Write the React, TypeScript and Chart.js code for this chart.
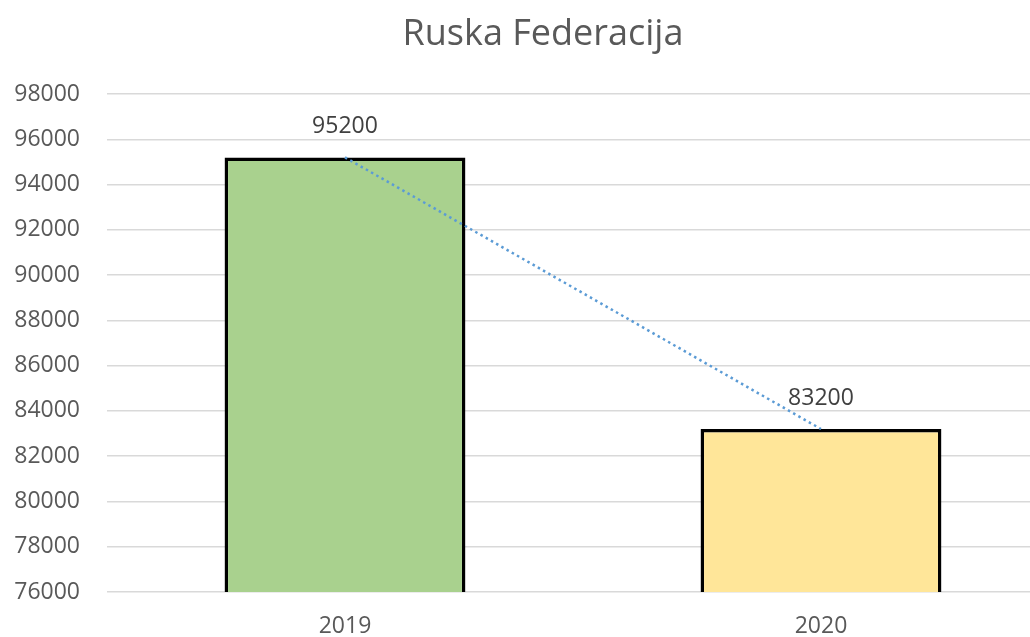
import React, { useEffect, useRef } from "react";
import { Chart, registerables } from "chart.js";

Chart.register(...registerables);

const title = "Ruska Federacija";
const categories = ["2019", "2020"];
const values = [95200, 83200];
const barColors = ["#A9D18E", "#FFE699"];
const yMin = 76000;
const yMax = 98000;
const yStep = 2000;

const FONT = "'Open Sans', 'Noto Sans', sans-serif";

const dataLabelPlugin = {
  id: "dataLabels",
  afterDatasetsDraw(chart: any) {
    const ctx = chart.ctx;
    const meta = chart.getDatasetMeta(1);
    ctx.save();
    ctx.font = `23px ${FONT}`;
    ctx.fillStyle = "#404040";
    ctx.textAlign = "center";
    ctx.textBaseline = "middle";
    meta.data.forEach((bar: any, i: number) => {
      ctx.fillText(String(values[i]), bar.x, bar.y - 31);
    });
    ctx.restore();
  },
};

const titlePlugin = {
  id: "chartTitle",
  afterDraw(chart: any) {
    const ctx = chart.ctx;
    ctx.save();
    ctx.font = `36px ${FONT}`;
    ctx.fillStyle = "#595959";
    ctx.textAlign = "center";
    ctx.textBaseline = "middle";
    ctx.fillText(title, 543, 35);
    ctx.restore();
  },
};

export default function App() {
  const ref = useRef<HTMLCanvasElement | null>(null);

  useEffect(() => {
    if (!ref.current) return;
    const chart = new Chart(ref.current, {
      type: "bar",
      data: {
        labels: categories,
        datasets: [
          {
            type: "line",
            data: values,
            borderColor: "#5B9BD5",
            borderWidth: 2.5,
            borderDash: [2.5, 3.5],
            pointRadius: 0,
            fill: false,
            order: 0,
          } as any,
          {
            type: "bar",
            data: values,
            backgroundColor: barColors,
            borderColor: "#000000",
            borderWidth: 3.5,
            borderSkipped: false,
            barPercentage: 1,
            categoryPercentage: 0.506,
            order: 1,
          } as any,
        ],
      },
      options: {
        responsive: false,
        animation: false,
        devicePixelRatio: 1,
        layout: { padding: { left: 0, right: 1, top: 94, bottom: 0 } },
        plugins: {
          legend: { display: false },
          tooltip: { enabled: false },
          title: { display: false },
        },
        scales: {
          x: {
            grid: { display: false, drawTicks: false },
            border: { display: false },
            ticks: {
              color: "#595959",
              font: { family: FONT, size: 23 },
              padding: 21,
            },
            afterFit(scale: any) {
              scale.height = 45;
            },
          },
          y: {
            min: yMin,
            max: yMax,
            grid: { color: "#D9D9D9", lineWidth: 1.5, drawTicks: false },
            border: { display: false },
            ticks: {
              stepSize: yStep,
              color: "#595959",
              font: { family: FONT, size: 23 },
              padding: 27,
              callback: (v: any) => String(v),
            },
            afterFit(scale: any) {
              scale.width = 107;
            },
          },
        },
      },
      plugins: [dataLabelPlugin, titlePlugin],
    });
    return () => chart.destroy();
  }, []);

  return (
    <div
      style={{
        position: "absolute",
        left: 0,
        top: 0,
        width: 1030,
        height: 637,
        overflow: "hidden",
        background: "#ffffff",
      }}
    >
      <canvas ref={ref} width={1060} height={637} style={{ display: "block" }} />
    </div>
  );
}
